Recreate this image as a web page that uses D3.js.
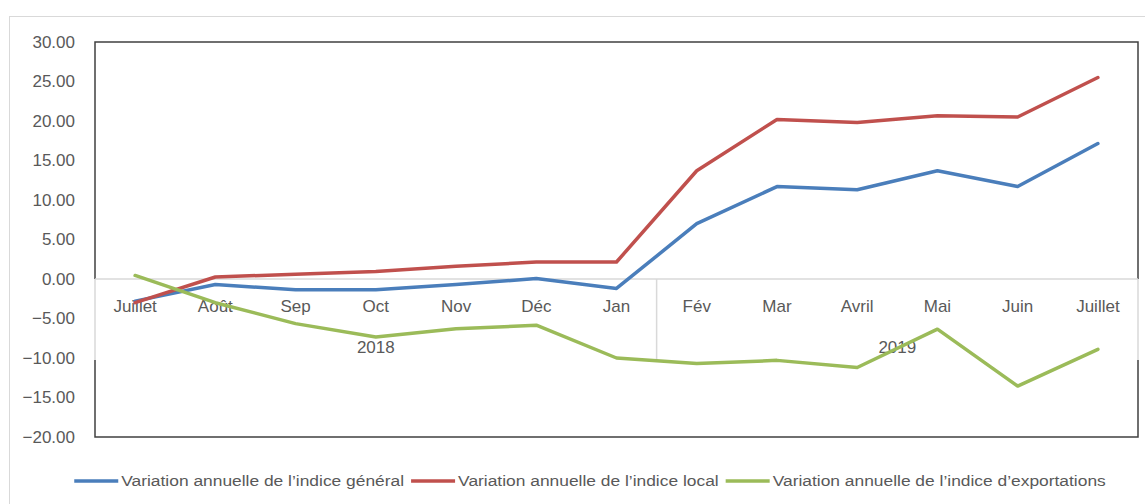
<!DOCTYPE html>
<html>
<head>
<meta charset="utf-8">
<script src="https://cdn.jsdelivr.net/npm/d3@7"></script>
<style>
  body { margin: 0; background: #fff; }
  svg { display: block; font-family: "Liberation Sans", Arial, sans-serif; }
</style>
</head>
<body>
<script>
// months, two years
const months = ["Juillet", "Août", "Sep", "Oct", "Nov", "Déc", "Jan",
                "Fév", "Mar", "Avril", "Mai", "Juin", "Juillet"];
const years = [
  { label: "2018", from: 0, to: 6 },
  { label: "2019", from: 7, to: 12 }
];

const general = [-2.8, -0.7, -1.35, -1.35, -0.7, 0.05, -1.2, 7.0, 11.7, 11.3, 13.7, 11.7, 17.15];
const local = [-3.0, 0.25, 0.6, 0.95, 1.6, 2.15, 2.15, 13.7, 20.2, 19.8, 20.65, 20.5, 25.5];
const exportations = [0.45, -3.0, -5.65, -7.35, -6.3, -5.85, -10.0, -10.7, -10.3, -11.2, -6.35, -13.55, -8.9];

const seriesNames = [
  "Variation annuelle de l’indice général",
  "Variation annuelle de l’indice local",
  "Variation annuelle de l’indice d’exportations"
];
const yTicks = [30, 25, 20, 15, 10, 5, 0, -5, -10, -15, -20];

const W = 1145, H = 504;
const plot = { left: 95, right: 1138, top: 42, bottom: 437 };
const labelBottom = 360;   // bottom of category label strip
const textColor = "#595959";
const colors = ["#4a7ebb", "#c0504d", "#9bbb59"];

const svg = d3.select("body").append("svg")
  .attr("width", W)
  .attr("height", H);

// chart outer frame
svg.append("rect")
  .attr("x", 9.5).attr("y", 16.5)
  .attr("width", 1300).attr("height", 600)
  .attr("fill", "#fff")
  .attr("stroke", "#d9d9d9");

const x = d3.scaleBand()
  .domain(d3.range(months.length))
  .range([plot.left, plot.right])
  .padding(0);
const cx = i => x(i) + x.bandwidth() / 2;

const y = d3.scaleLinear()
  .domain([-20, 30])
  .range([plot.bottom, plot.top]);

// y axis labels
const yAxis = svg.append("g")
  .attr("transform", `translate(${plot.left},0)`)
  .call(d3.axisLeft(y).tickValues(yTicks).tickSize(0).tickPadding(20)
    .tickFormat(d3.format(".2f")));
yAxis.select(".domain").remove();
yAxis.selectAll("text")
  .attr("fill", textColor)
  .style("font-size", "17px")
  .style("font-family", "'Liberation Sans', Arial, sans-serif");

// plot border, broken where the category label strip sits
const y0 = y(0);
const border = d3.path();
border.moveTo(plot.left, y0);
border.lineTo(plot.left, plot.top);
border.lineTo(plot.right, plot.top);
border.lineTo(plot.right, y0);
border.moveTo(plot.left, labelBottom);
border.lineTo(plot.left, plot.bottom);
border.lineTo(plot.right, plot.bottom);
border.lineTo(plot.right, labelBottom);
svg.append("path")
  .attr("d", border.toString())
  .attr("fill", "none")
  .attr("stroke", "#404040")
  .attr("stroke-width", 1.5);

// zero axis line
svg.append("line")
  .attr("x1", plot.left).attr("x2", plot.right)
  .attr("y1", y0).attr("y2", y0)
  .attr("stroke", "#d9d9d9")
  .attr("stroke-width", 1.5);

// group dividers
const dividers = [plot.left, x(years[1].from), plot.right];
svg.selectAll(".divider")
  .data(dividers)
  .join("line")
  .attr("class", "divider")
  .attr("x1", d => d).attr("x2", d => d)
  .attr("y1", y0).attr("y2", labelBottom)
  .attr("stroke", "#d9d9d9")
  .attr("stroke-width", 1.5);

// month labels
const xAxis = svg.append("g")
  .attr("transform", `translate(0,${y0})`)
  .call(d3.axisBottom(x).tickSize(0).tickPadding(21)
    .tickFormat(i => months[i]));
xAxis.select(".domain").remove();
xAxis.selectAll("text")
  .attr("fill", textColor)
  .style("font-size", "17px")
  .style("font-family", "'Liberation Sans', Arial, sans-serif");

// year labels
svg.selectAll(".year")
  .data(years)
  .join("text")
  .attr("class", "year")
  .attr("x", d => (x(d.from) + x(d.to) + x.bandwidth()) / 2)
  .attr("y", 353)
  .attr("text-anchor", "middle")
  .attr("fill", textColor)
  .style("font-size", "17px")
  .text(d => d.label);

// series lines
const line = d3.line()
  .x((d, i) => cx(i))
  .y(d => y(d));

[general, local, exportations].forEach((values, k) => {
  svg.append("path")
    .datum(values)
    .attr("d", line)
    .attr("fill", "none")
    .attr("stroke", colors[k])
    .attr("stroke-width", 3.5)
    .attr("stroke-linejoin", "round")
    .attr("stroke-linecap", "round");
});

// legend (text drawn a bit stretched, like the original)
const stretch = 1.2;
const legend = svg.append("g");
let lx = 0;
seriesNames.forEach((name, k) => {
  const item = legend.append("g").attr("transform", `translate(${lx},0)`);
  item.append("line")
    .attr("x1", 0).attr("x2", 44)
    .attr("y1", 0).attr("y2", 0)
    .attr("stroke", colors[k])
    .attr("stroke-width", 3.5);
  const t = item.append("text")
    .attr("transform", `translate(47,5) scale(${stretch},1)`)
    .attr("fill", textColor)
    .style("font-size", "14.5px")
    .text(name);
  lx += 47 + t.node().getComputedTextLength() * stretch + 7;
});
legend.attr("transform", `translate(${590 - (lx - 7) / 2},481)`);
</script>
</body>
</html>
